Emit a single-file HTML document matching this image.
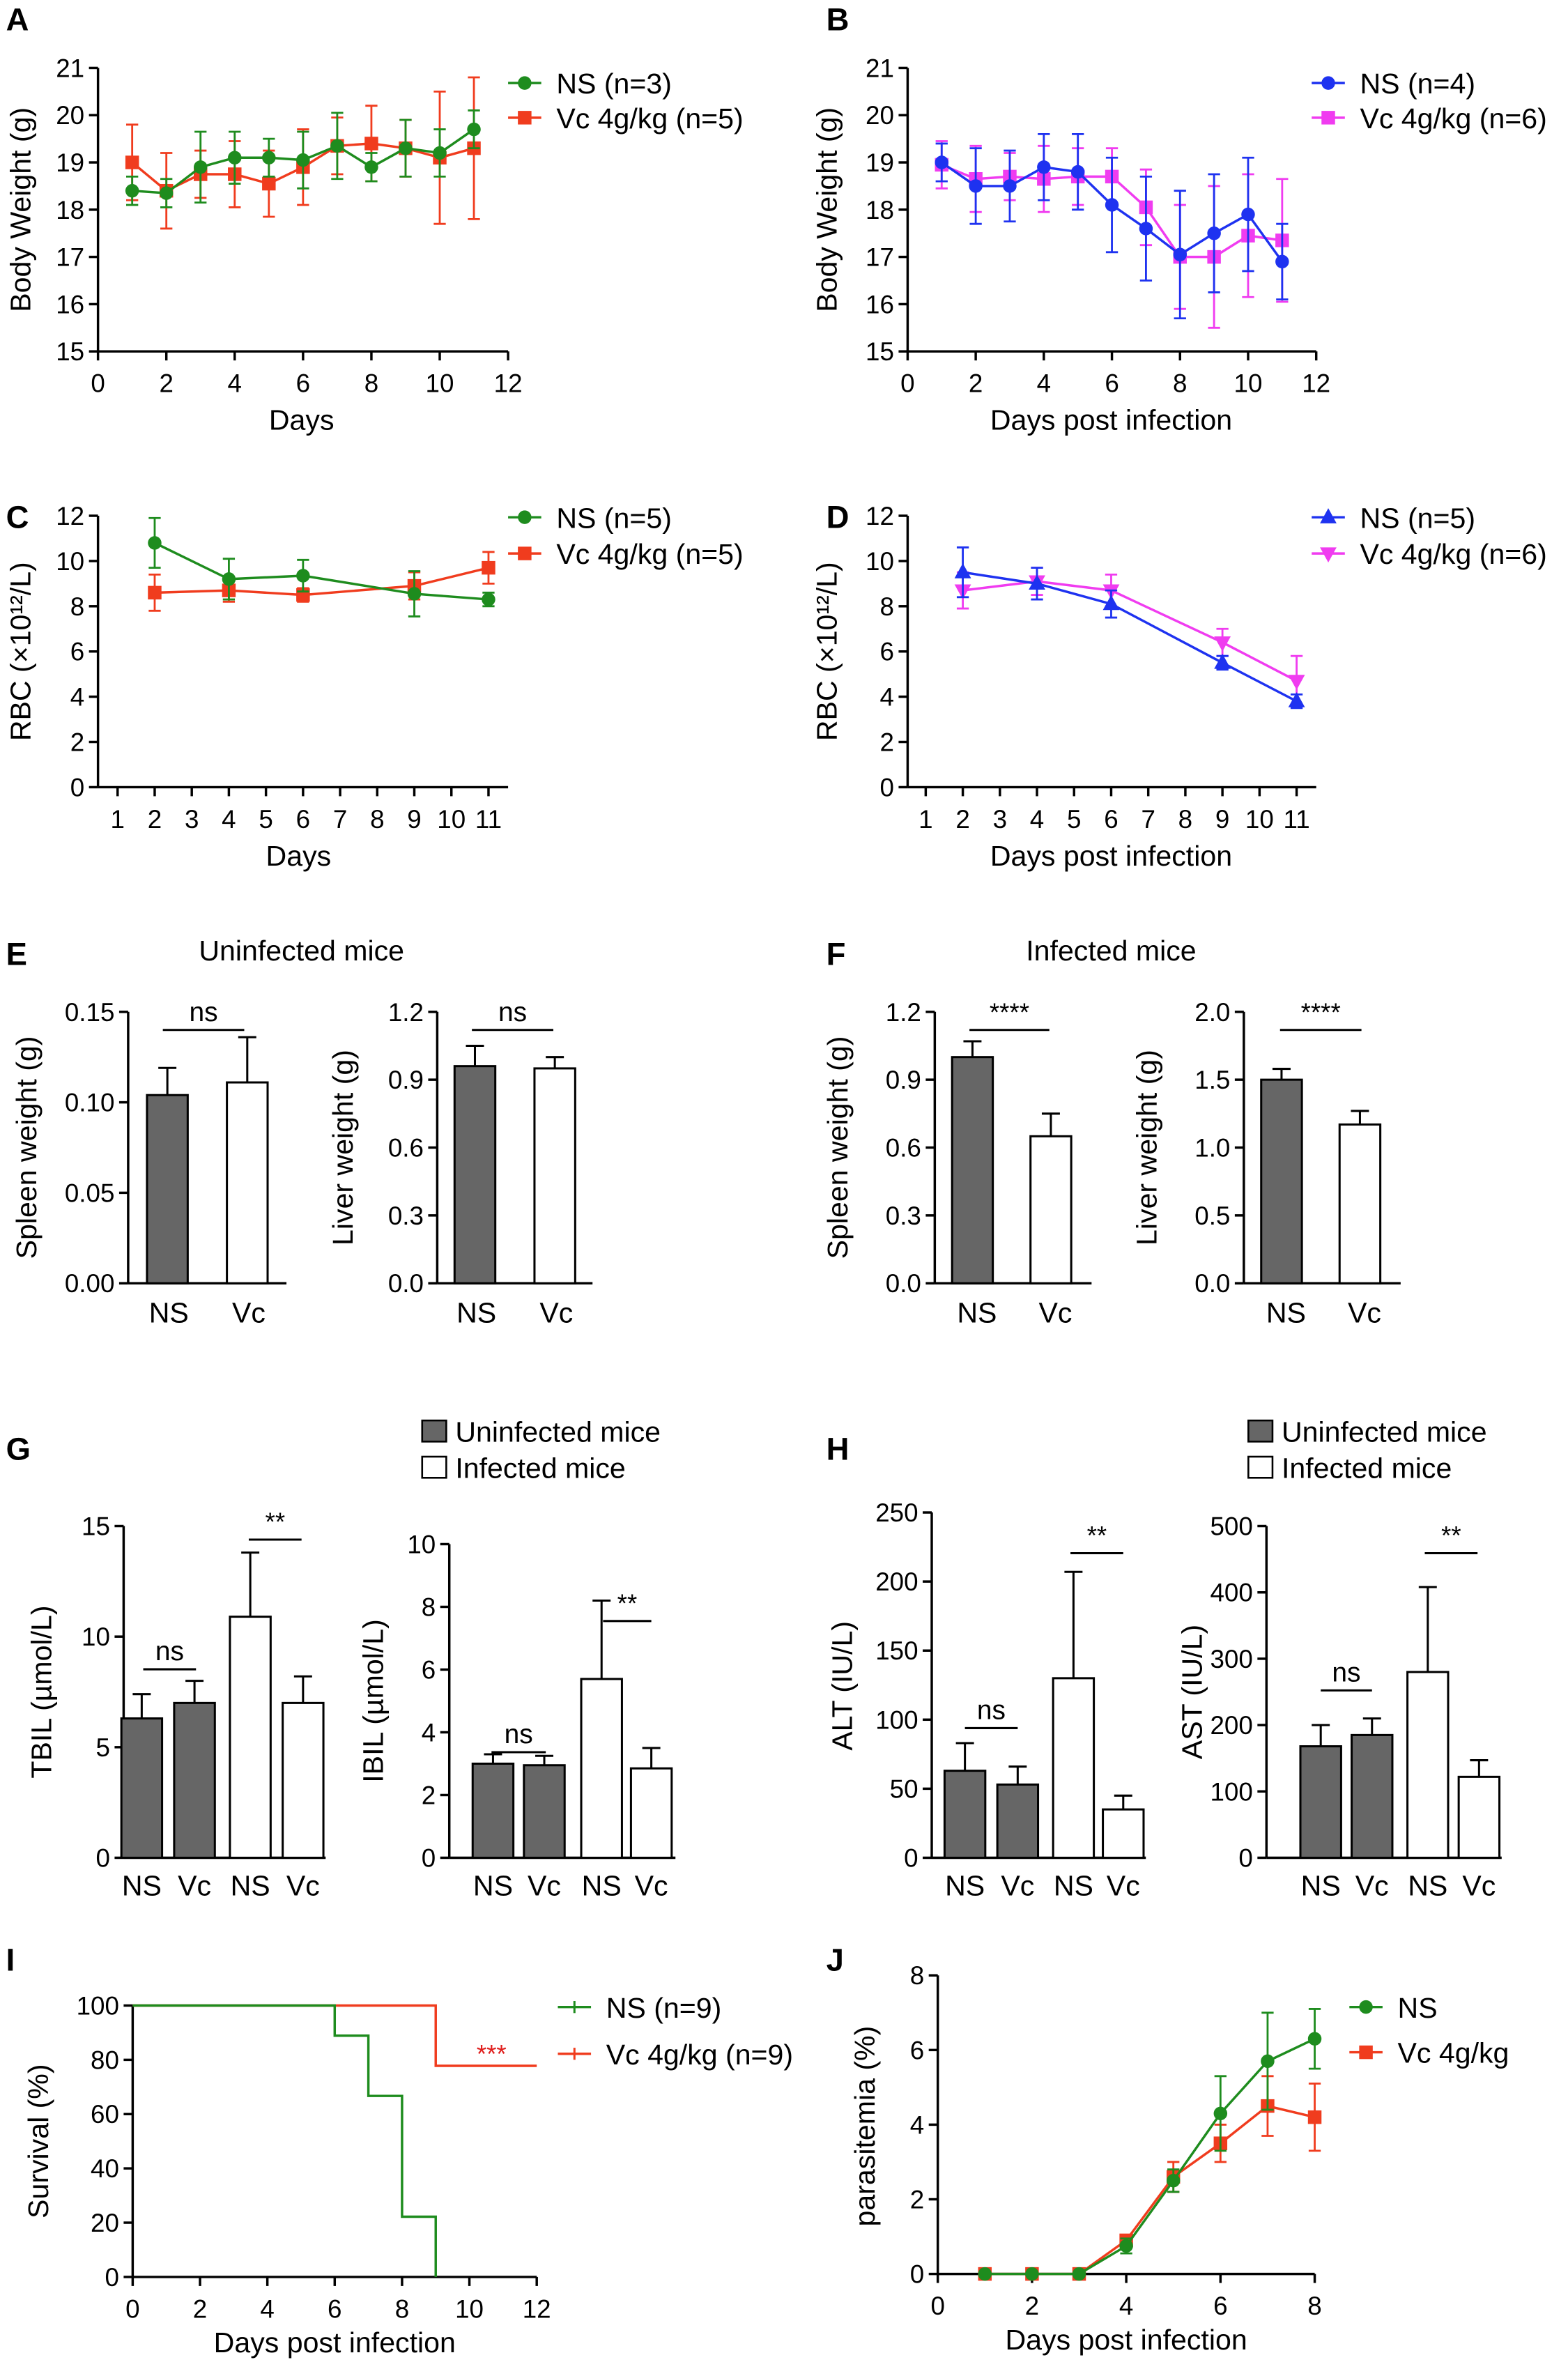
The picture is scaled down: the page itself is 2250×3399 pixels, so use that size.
<!DOCTYPE html>
<html><head><meta charset="utf-8"><style>
html,body{margin:0;padding:0;background:#fff}
svg{display:block}
text{font-family:"Liberation Sans",Arial,sans-serif}
</style></head><body>
<svg id="fig" width="2250" height="3399" viewBox="0 0 1040 1571" xmlns="http://www.w3.org/2000/svg"></svg>
<script>
// ---------- DATA ----------
const daysA=[1,2,3,4,5,6,7,8,9,10,11];
const aNS=[18.4,18.35,18.9,19.1,19.1,19.05,19.35,18.9,19.3,19.2,19.7];
const aNSerr=[0.3,0.3,0.75,0.55,0.4,0.6,0.7,0.3,0.6,0.5,0.4];
const aVc=[19.0,18.4,18.75,18.75,18.55,18.9,19.35,19.4,19.3,19.1,19.3];
const aVcerr=[0.8,0.8,0.5,0.7,0.7,0.8,0.6,0.8,0.6,1.4,1.5];
const bNS=[19.0,18.5,18.5,18.9,18.8,18.1,17.6,17.05,17.5,17.9,16.9];
const bNSerr=[0.4,0.8,0.75,0.7,0.8,1.0,1.1,1.35,1.25,1.2,0.8];
const bVc=[18.95,18.65,18.7,18.65,18.7,18.7,18.05,17.0,17.0,17.45,17.35];
const bVcerr=[0.5,0.7,0.5,0.7,0.6,0.6,0.8,1.1,1.5,1.3,1.3];
const daysC=[2,4,6,9,11];
const cNS=[10.8,9.2,9.35,8.55,8.3];
const cNSerr=[1.1,0.9,0.7,1.0,0.3];
const cVc=[8.6,8.7,8.5,8.9,9.7];
const cVcerr=[0.8,0.5,0.3,0.6,0.7];
const dNS=[9.5,9.0,8.1,5.5,3.8];
const dNSerr=[1.1,0.7,0.6,0.3,0.3];
const dVc=[8.7,9.1,8.7,6.4,4.7];
const dVcerr=[0.8,0.6,0.7,0.6,1.1];
const eSpleen=[0.104,0.111], eSpleenErr=[0.015,0.025];
const eLiver=[0.96,0.95], eLiverErr=[0.09,0.05];
const fSpleen=[1.0,0.65], fSpleenErr=[0.07,0.1];
const fLiver=[1.5,1.17], fLiverErr=[0.08,0.1];
const gTBIL=[6.3,7.0,10.9,7.0], gTBILerr=[1.1,1.0,2.9,1.2];
const gIBIL=[3.0,2.95,5.7,2.85], gIBILerr=[0.3,0.3,2.5,0.65];
const hALT=[63,53,130,35], hALTerr=[20,13,77,10];
const hAST=[168,185,280,122], hASTerr=[32,25,128,25];
const iDaysNS=[0,6,7,8,9], iNS=[100,88.9,66.7,22.2,0];
const iDaysVc=[0,9,12], iVc=[100,77.8,77.8];
const daysJ=[1,2,3,4,5,6,7,8];
const jNS=[0,0,0,0.75,2.5,4.3,5.7,6.3], jNSerr=[0,0,0,0.2,0.3,1.0,1.3,0.8];
const jVc=[0,0,0,0.9,2.6,3.5,4.5,4.2], jVcerr=[0,0,0,0.15,0.4,0.5,0.8,0.9];

// ---------- HELPERS ----------
const svg=document.getElementById('fig');
const NS='http://www.w3.org/2000/svg';
function mk(tag,at,parent){const e=document.createElementNS(NS,tag);for(const k in at)e.setAttribute(k,at[k]);(parent||svg).appendChild(e);return e;}
function nm(e,n){


return e;}
function txt(x,y,s,size,anchor,name,extra){const t=mk('text',Object.assign({x:x,y:y,'font-size':size,'text-anchor':anchor||'middle',fill:'#000'},extra||{}));t.textContent=s;nm(t,name);return t;}
function line(x1,y1,x2,y2,col,w,name){const l=mk('line',{x1,y1,x2,y2,stroke:col||'#000','stroke-width':w||1.6});nm(l,name);return l;}
function ytitle(x,y,s,name){const t=txt(x,y,s,19,'middle',name,{transform:`rotate(-90 ${x} ${y})`});return t;}
function yaxis(x,yTop,yBot,ticks,ys,fmt,name){line(x,yTop,x,yBot,'#000',1.6,name+'-y-axis');
 ticks.forEach(v=>{const y=ys(v);line(x-6,y,x,y,'#000',1.6,name+'-y-tick');txt(x-9,y+6,fmt(v),17,'end',name+'-y-tick-label');});}
function xaxis(y,xL,xR,ticks,xs,labels,name){line(xL,y,xR,y,'#000',1.6,name+'-x-axis');
 ticks.forEach((v,i)=>{const x=xs(v);line(x,y,x,y+6,'#000',1.6,name+'-x-tick');txt(x,y+27,String(labels?labels[i]:v),17,'middle',name+'-x-tick-label');});}
function marker(shape,x,y,col,name){let e;
 if(shape==='c')e=mk('circle',{cx:x,cy:y,r:4.5,fill:col});
 else if(shape==='s')e=mk('rect',{x:x-4.5,y:y-4.5,width:9,height:9,fill:col});
 else if(shape==='t')e=mk('polygon',{points:`${x},${y-6} ${x-5.5},${y+4} ${x+5.5},${y+4}`,fill:col});
 else e=mk('polygon',{points:`${x},${y+6} ${x-5.5},${y-4} ${x+5.5},${y-4}`,fill:col});
 nm(e,name);}
function series(xsArr,ys,errs,xs,yf,col,shape,name){
 const pts=xsArr.map((d,i)=>xs(d)+','+yf(ys[i])).join(' ');
 nm(mk('polyline',{points:pts,fill:'none',stroke:col,'stroke-width':1.6}),name+'-line');
 xsArr.forEach((d,i)=>{const x=xs(d);if(errs&&errs[i]>0){const y1=yf(ys[i]+errs[i]),y2=yf(ys[i]-errs[i]);
   line(x,y1,x,y2,col,1.3,name+'-error-bar');line(x-4,y1,x+4,y1,col,1.3,name+'-error-cap');line(x-4,y2,x+4,y2,col,1.3,name+'-error-cap');}
   marker(shape,x,yf(ys[i]),col,name+'-point');});}
function legend(x,y,col,shape,label,name){line(x,y,x+22,y,col,1.6,name+'-line');marker(shape,x+11,y,col,name+'-marker');txt(x+32,y+7,label,19,'start',name+'-label');}
function panelLetter(x,y,s){txt(x,y,s,21,'start','panel-'+s.toLowerCase()+'-letter',{'font-weight':'bold'});}
function bars(xc,vals,errs,fills,yf,w,name){vals.forEach((v,i)=>{const y=yf(v),y0=yf(0);
 nm(mk('rect',{x:xc[i]-w/2,y:y,width:w,height:y0-y,fill:fills[i],stroke:'#000','stroke-width':1.4}),name+'-bar-'+i);
 const ye=yf(v+errs[i]);line(xc[i],y,xc[i],ye,'#000',1.4,name+'-error-bar');line(xc[i]-6,ye,xc[i]+6,ye,'#000',1.4,name+'-error-cap');});}
function sig(x1,x2,y,s,name,col){line(x1,y,x2,y,'#000',1.4,name+'-bracket');txt((x1+x2)/2,y-6,s,s==='ns'?18:17,'middle',name+'-label',col?{fill:col}:{});}

// ---------- PANEL A ----------
panelLetter(4,20,'A');
{const xs=d=>65+d*272/12, yf=v=>233-(v-15)*188/6;
 yaxis(65,45,233,[15,16,17,18,19,20,21],yf,v=>v,'a');xaxis(233,65,337,[0,2,4,6,8,10,12],xs,null,'a');
 ytitle(20,139,'Body Weight (g)','a-y-axis-title');txt(200,285,'Days',19,'middle','a-x-axis-title');
 series(daysA,aVc,aVcerr,xs,yf,'#f03c1e','s','a-vc');series(daysA,aNS,aNSerr,xs,yf,'#1e8c1e','c','a-ns');
 legend(337,55,'#1e8c1e','c','NS (n=3)','a-legend-ns');legend(337,78,'#f03c1e','s','Vc 4g/kg (n=5)','a-legend-vc');}
// ---------- PANEL B ----------
panelLetter(548,20,'B');
{const xs=d=>602+d*271/12, yf=v=>233-(v-15)*188/6;
 yaxis(602,45,233,[15,16,17,18,19,20,21],yf,v=>v,'b');xaxis(233,602,873,[0,2,4,6,8,10,12],xs,null,'b');
 ytitle(555,139,'Body Weight (g)','b-y-axis-title');txt(737,285,'Days post infection',19,'middle','b-x-axis-title');
 series(daysA,bVc,bVcerr,xs,yf,'#f03cf0','s','b-vc');series(daysA,bNS,bNSerr,xs,yf,'#1e32f0','c','b-ns');
 legend(870,55,'#1e32f0','c','NS (n=4)','b-legend-ns');legend(870,78,'#f03cf0','s','Vc 4g/kg (n=6)','b-legend-vc');}
// ---------- PANEL C ----------
panelLetter(4,350,'C');
const dayTicks=[1,2,3,4,5,6,7,8,9,10,11];
{const xs=d=>78+(d-1)*24.6, yf=v=>522-v*15;
 yaxis(65,342,522,[0,2,4,6,8,10,12],yf,v=>v,'c');xaxis(522,65,337,dayTicks,xs,null,'c');
 ytitle(20,432,'RBC (×10¹²/L)','c-y-axis-title');txt(198,574,'Days',19,'middle','c-x-axis-title');
 series(daysC,cVc,cVcerr,xs,yf,'#f03c1e','s','c-vc');series(daysC,cNS,cNSerr,xs,yf,'#1e8c1e','c','c-ns');
 legend(337,343,'#1e8c1e','c','NS (n=5)','c-legend-ns');legend(337,367,'#f03c1e','s','Vc 4g/kg (n=5)','c-legend-vc');}
// ---------- PANEL D ----------
panelLetter(548,350,'D');
{const xs=d=>614+(d-1)*24.6, yf=v=>522-v*15;
 yaxis(602,342,522,[0,2,4,6,8,10,12],yf,v=>v,'d');xaxis(522,602,873,dayTicks,xs,null,'d');
 ytitle(555,432,'RBC (×10¹²/L)','d-y-axis-title');txt(737,574,'Days post infection',19,'middle','d-x-axis-title');
 series(daysC,dVc,dVcerr,xs,yf,'#f03cf0','v','d-vc');series(daysC,dNS,dNSerr,xs,yf,'#1e32f0','t','d-ns');
 legend(870,343,'#1e32f0','t','NS (n=5)','d-legend-ns');legend(870,367,'#f03cf0','v','Vc 4g/kg (n=6)','d-legend-vc');}
// ---------- PANEL E ----------
const DG='#666', WH='#fff';
panelLetter(4,640,'E');txt(200,637,'Uninfected mice',19,'middle','e-title');
{const yf=v=>851-v*180/0.15;yaxis(85,671,851,[0,0.05,0.10,0.15],yf,v=>v.toFixed(2),'e-spleen');
 line(85,851,190,851,'#000',1.6,'e-spleen-x-axis');txt(112,877,'NS',19,'middle','e-spleen-x-label');txt(165,877,'Vc',19,'middle','e-spleen-x-label');
 bars([111,164],eSpleen,eSpleenErr,[DG,WH],yf,27,'e-spleen');sig(108,162,683,'ns','e-spleen-sig');ytitle(24,761,'Spleen weight (g)','e-spleen-y-title');}
{const yf=v=>851-v*150;yaxis(290,671,851,[0,0.3,0.6,0.9,1.2],yf,v=>v.toFixed(1),'e-liver');
 line(290,851,393,851,'#000',1.6,'e-liver-x-axis');txt(316,877,'NS',19,'middle','e-liver-x-label');txt(369,877,'Vc',19,'middle','e-liver-x-label');
 bars([315,368],eLiver,eLiverErr,[DG,WH],yf,27,'e-liver');sig(313,367,683,'ns','e-liver-sig');ytitle(234,761,'Liver weight (g)','e-liver-y-title');}
// ---------- PANEL F ----------
panelLetter(548,640,'F');txt(737,637,'Infected mice',19,'middle','f-title');
{const yf=v=>851-v*150;yaxis(620,671,851,[0,0.3,0.6,0.9,1.2],yf,v=>v.toFixed(1),'f-spleen');
 line(620,851,724,851,'#000',1.6,'f-spleen-x-axis');txt(648,877,'NS',19,'middle','f-spleen-x-label');txt(700,877,'Vc',19,'middle','f-spleen-x-label');
 bars([645,697],fSpleen,fSpleenErr,[DG,WH],yf,27,'f-spleen');sig(643,696,683,'****','f-spleen-sig');ytitle(562,761,'Spleen weight (g)','f-spleen-y-title');}
{const yf=v=>851-v*90;yaxis(825,671,851,[0,0.5,1.0,1.5,2.0],yf,v=>v.toFixed(1),'f-liver');
 line(825,851,929,851,'#000',1.6,'f-liver-x-axis');txt(853,877,'NS',19,'middle','f-liver-x-label');txt(905,877,'Vc',19,'middle','f-liver-x-label');
 bars([850,902],fLiver,fLiverErr,[DG,WH],yf,27,'f-liver');sig(849,903,683,'****','f-liver-sig');ytitle(767,761,'Liver weight (g)','f-liver-y-title');}
// ---------- PANEL G ----------
panelLetter(4,968,'G');
function barLegend(x,y1,y2,name){nm(mk('rect',{x:x,y:y1-8,width:16,height:14,fill:DG,stroke:'#000','stroke-width':1.2}),name+'-uninfected-swatch');
 txt(x+22,y1+6,'Uninfected mice',19,'start',name+'-uninfected-label');
 nm(mk('rect',{x:x,y:y2-8,width:16,height:14,fill:WH,stroke:'#000','stroke-width':1.2}),name+'-infected-swatch');
 txt(x+22,y2+6,'Infected mice',19,'start',name+'-infected-label');}
barLegend(280,950,974,'g-legend');
const grp=['NS','Vc','NS','Vc'],gf=[DG,DG,WH,WH];
function groupX(xc,name){xc.forEach((x,i)=>txt(x,1257,grp[i],19,'middle',name+'-x-label'));}
{const yf=v=>1232-v*220/15;const xc=[94,129,166,201];yaxis(82,1012,1232,[0,5,10,15],yf,v=>v,'g-tbil');
 line(82,1232,216,1232,'#000',1.6,'g-tbil-x-axis');groupX(xc,'g-tbil');bars(xc,gTBIL,gTBILerr,gf,yf,27,'g-tbil');
 sig(95,130,1107,'ns','g-tbil-ns');sig(165,200,1021,'**','g-tbil-sig');ytitle(34,1122,'TBIL (µmol/L)','g-tbil-y-title');}
{const yf=v=>1232-v*20.8;const xc=[327,361,399,432];yaxis(298,1024,1232,[0,2,4,6,8,10],yf,v=>v,'g-ibil');
 line(298,1232,448,1232,'#000',1.6,'g-ibil-x-axis');groupX(xc,'g-ibil');bars(xc,gIBIL,gIBILerr,gf,yf,27,'g-ibil');
 sig(326,362,1162,'ns','g-ibil-ns');sig(400,432,1075,'**','g-ibil-sig');ytitle(254,1128,'IBIL (µmol/L)','g-ibil-y-title');}
// ---------- PANEL H ----------
panelLetter(548,968,'H');barLegend(828,950,974,'h-legend');
{const yf=v=>1232-v*229/250;const xc=[640,675,712,745];yaxis(618,1003,1232,[0,50,100,150,200,250],yf,v=>v,'h-alt');
 line(618,1232,760,1232,'#000',1.6,'h-alt-x-axis');groupX(xc,'h-alt');bars(xc,hALT,hALTerr,gf,yf,27,'h-alt');
 sig(640,675,1146,'ns','h-alt-ns');sig(710,745,1030,'**','h-alt-sig');ytitle(565,1118,'ALT (IU/L)','h-alt-y-title');}
{const yf=v=>1232-v*220/500;const xc=[876,910,947,981];yaxis(840,1012,1232,[0,100,200,300,400,500],yf,v=>v,'h-ast');
 line(840,1232,996,1232,'#000',1.6,'h-ast-x-axis');groupX(xc,'h-ast');bars(xc,hAST,hASTerr,gf,yf,27,'h-ast');
 sig(876,910,1121,'ns','h-ast-ns');sig(945,980,1030,'**','h-ast-sig');ytitle(797,1122,'AST (IU/L)','h-ast-y-title');}
// ---------- PANEL I ----------
panelLetter(4,1307,'I');
{const xs=d=>88+d*268/12, yf=v=>1510-v*1.8;
 yaxis(88,1330,1510,[0,20,40,60,80,100],yf,v=>v,'i');xaxis(1510,88,356,[0,2,4,6,8,10,12],xs,null,'i');
 ytitle(32,1420,'Survival (%)','i-y-axis-title');txt(222,1560,'Days post infection',19,'middle','i-x-axis-title');
 function step(dx,vals,col,name){let p=[];dx.forEach((d,i)=>{if(i>0)p.push(xs(d)+','+yf(vals[i-1]));p.push(xs(d)+','+yf(vals[i]));});
  nm(mk('polyline',{points:p.join(' '),fill:'none',stroke:col,'stroke-width':1.6}),name);}
 step(iDaysVc,iVc,'#f03c1e','i-vc-survival-line');step(iDaysNS,iNS,'#1e8c1e','i-ns-survival-line');
 txt(326,1368,'***',17,'middle','i-significance',{style:'fill:#e0201e'});
 line(370,1331,392,1331,'#1e8c1e',1.6,'i-legend-ns-line');line(381,1327,381,1335,'#1e8c1e',1.4,'i-legend-ns-tick');txt(402,1338,'NS (n=9)',19,'start','i-legend-ns-label');
 line(370,1362,392,1362,'#f03c1e',1.6,'i-legend-vc-line');line(381,1358,381,1366,'#f03c1e',1.4,'i-legend-vc-tick');txt(402,1369,'Vc 4g/kg (n=9)',19,'start','i-legend-vc-label');}
// ---------- PANEL J ----------
panelLetter(548,1307,'J');
{const xs=d=>622+d*250/8, yf=v=>1508-v*198/8;
 yaxis(622,1310,1508,[0,2,4,6,8],yf,v=>v,'j');xaxis(1508,622,872,[0,2,4,6,8],xs,null,'j');
 ytitle(580,1410,'parasitemia (%)','j-y-axis-title');txt(747,1558,'Days post infection',19,'middle','j-x-axis-title');
 series(daysJ,jVc,jVcerr,xs,yf,'#f03c1e','s','j-vc');series(daysJ,jNS,jNSerr,xs,yf,'#1e8c1e','c','j-ns');
 legend(895,1331,'#1e8c1e','c','NS','j-legend-ns');legend(895,1361,'#f03c1e','s','Vc 4g/kg','j-legend-vc');}
</script>
</body></html>
